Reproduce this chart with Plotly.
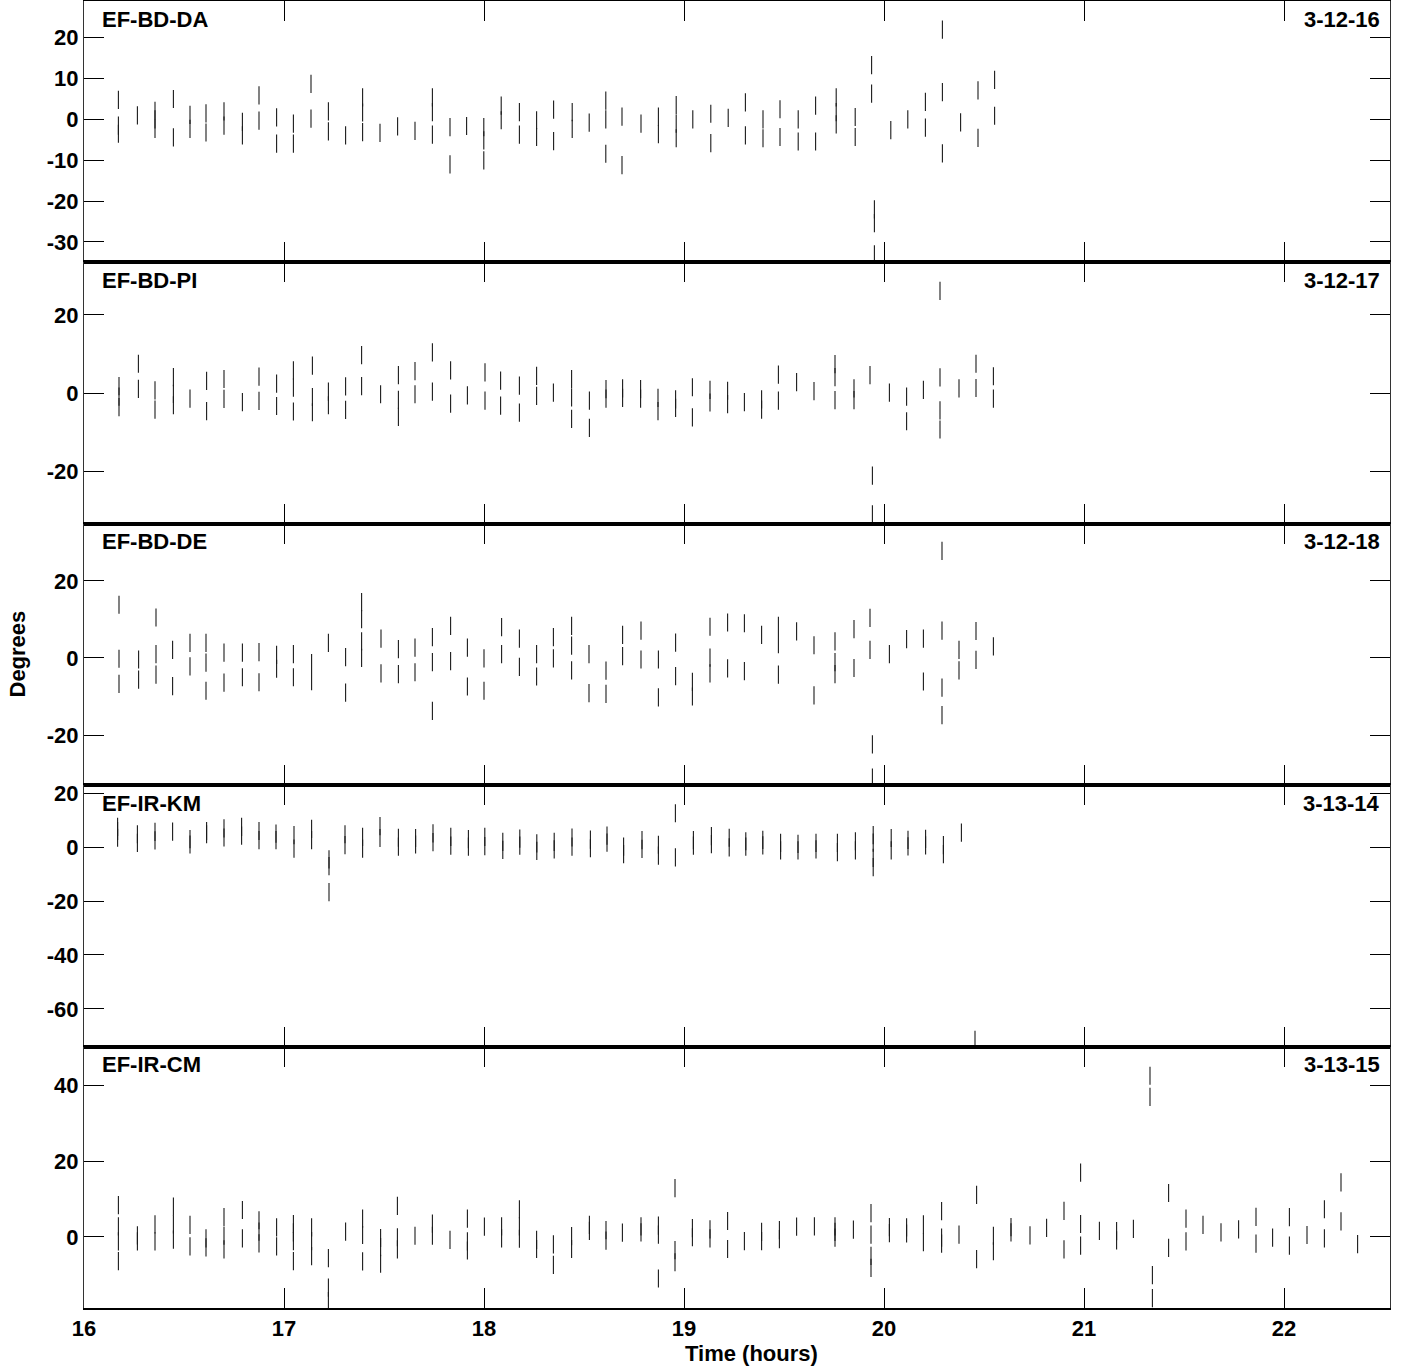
import plotly.graph_objects as go
from plotly.subplots import make_subplots

# ---------------- data (scan time in hours, phase values in degrees) ----------------
da_t = [16.172, 16.267, 16.355, 16.447, 16.53, 16.61, 16.70, 16.792, 16.875, 16.963,
        17.047, 17.135, 17.222, 17.308, 17.393, 17.48, 17.568, 17.655, 17.742, 17.83,
        17.913, 17.999, 18.086, 18.177, 18.263, 18.348, 18.441, 18.526, 18.609, 18.69,
        18.785, 18.872, 18.961, 19.044, 19.134, 19.221, 19.307, 19.395, 19.48, 19.571,
        19.658, 19.761, 19.856, 19.938, 19.952, 20.034, 20.119, 20.207, 20.292, 20.383,
        20.47, 20.553]
da_v = [[-1.5, -3.5, 4.8], [1.0], [2.1, 0.0, -2.3], [5.0, -4.4], [1.1, -2.3], [1.5, -3.2],
        [2.0, -1.5], [-0.6, -3.9], [5.9, -0.3], [0.5, -5.9],
        [-1.0, -5.9], [8.7, 0.2], [2.0, -2.9], [-3.9], [5.4, 1.7, -3.1], [-3.3], [-1.7], [-2.8],
        [5.4, 1.8, -3.7], [-1.9, -11.0],
        [-1.6], [-1.9, -5.1, -10.0], [3.4, -0.2], [1.8, -3.7], [-0.2, -4.3], [2.4, -5.3],
        [1.8, -2.3], [-0.8], [4.6, 0.0, -8.4], [0.7, -11.2],
        [-1.0], [0.7, -3.6], [3.5, -1.0, -4.6], [0.0], [1.4, -5.8], [0.4], [4.2, -3.9],
        [0.0, -4.6], [2.5, -4.3], [0.0, -5.4],
        [3.4, -5.4], [5.4, 1.8, -1.2], [0.6, -4.3], [13.3, 6.3], [-22.0, -25.4, -33.0], [-2.6],
        [0.0], [4.3, -2.0], [22.0, 6.7, -8.3], [-0.7],
        [7.1, -4.5], [9.7, 0.9]]

pi_t = [16.175, 16.272, 16.355, 16.447, 16.53, 16.613, 16.70, 16.792, 16.875, 16.963,
        17.047, 17.142, 17.222, 17.308, 17.388, 17.483, 17.572, 17.655, 17.742, 17.833,
        17.917, 18.005, 18.083, 18.177, 18.263, 18.347, 18.438, 18.527, 18.61, 18.693,
        18.783, 18.87, 18.958, 19.042, 19.13, 19.218, 19.302, 19.388, 19.472, 19.563,
        19.65, 19.755, 19.85, 19.93, 19.942, 20.027, 20.113, 20.197, 20.28, 20.375,
        20.46, 20.547]
pi_v = [[1.8, -0.9, -3.6], [7.5, 1.1], [0.7, -4.2], [4.1, -0.2, -3.1], [-1.4], [3.1, -4.6],
        [3.6, -1.5], [-2.3], [4.2, -2.0], [2.4, -3.3],
        [5.8, 1.4, -4.7], [7.0, -1.0, -4.9], [0.4, -3.1], [1.7, -4.3], [9.7, 1.8], [-0.3],
        [4.6, -1.7, -6.1], [5.6, -0.3], [10.4, 0.4], [5.8, -2.7],
        [-0.6], [5.3, -1.9], [3.2, -3.2], [1.9, -5.0], [4.4, -0.7], [0.1], [3.6, -1.1, -6.6],
        [-1.9, -8.9], [1.0, -1.4], [1.2, -1.2],
        [1.0, -1.4], [-1.2, -4.6], [-1.6, -3.8], [1.5, -6.2], [0.8, -2.4], [0.6, -2.8], [-2.3],
        [-1.6, -4.2], [4.7, -1.9], [2.8],
        [0.5], [7.4, 4.1, -1.8], [1.2, -1.8], [4.6], [-21.1, -31.0], [0.1], [-0.9, -7.2], [0.8],
        [26.1, 4.0, -4.4, -9.3], [1.2],
        [7.5, 1.3], [4.3, -1.4]]

de_t = [16.175, 16.273, 16.36, 16.443, 16.53, 16.61, 16.70, 16.792, 16.875, 16.963,
        17.047, 17.138, 17.222, 17.308, 17.388, 17.485, 17.572, 17.655, 17.742, 17.833,
        17.917, 18.0, 18.088, 18.177, 18.263, 18.347, 18.438, 18.525, 18.61, 18.693,
        18.785, 18.872, 18.958, 19.042, 19.13, 19.218, 19.302, 19.388, 19.472, 19.563,
        19.65, 19.755, 19.85, 19.93, 19.942, 20.027, 20.113, 20.197, 20.29, 20.375,
        20.46, 20.547]
de_v = [[13.8, -0.2, -6.7], [-0.4, -5.6], [10.5, 1.0, -4.3], [2.1, -7.3], [3.9, -2.2],
        [3.9, -1.2, -8.5], [1.4, -6.4], [1.4, -5.0], [1.5, -6.3], [0.8, -2.8],
        [1.0, -5.0], [-1.3, -6.0], [3.9], [0.2, -9.0], [14.5, 10.1, 4.3, 0.0], [5.0, -4.0],
        [2.3, -4.2], [2.7, -3.7], [5.4, -1.1, -13.7], [8.3, -0.8],
        [2.7, -7.4], [-0.1, -8.5], [8.0, 1.0], [5.0, -2.3], [1.0, -4.8], [5.4, -0.1],
        [8.3, 3.2, -3.2], [1.0, -9.1], [-3.3, -9.3], [6.0, 0.5],
        [7.1, -0.4], [-0.4, -10.2], [4.0, -4.7], [-6.2, -10.0], [8.1, 0.1, -4.0], [9.2, -2.7],
        [9.0, -3.4], [6.0], [8.3, 3.6, -4.3], [6.9],
        [3.3, -9.7], [4.3, -1.1, -4.2], [7.5, -2.6], [10.4, 2.1], [-22.4, -31.0], [1.0], [4.9],
        [5.0, -6.1], [27.8, 7.1, -7.7, -14.8], [2.1, -3.2],
        [7.0, -0.5], [3.0]]

km_t = [16.168, 16.267, 16.355, 16.443, 16.53, 16.613, 16.70, 16.788, 16.875, 16.96,
        17.05, 17.138, 17.225, 17.305, 17.393, 17.48, 17.572, 17.658, 17.745, 17.834,
        17.922, 18.004, 18.094, 18.179, 18.264, 18.351, 18.44, 18.532, 18.615, 18.698,
        18.79, 18.872, 18.957, 19.047, 19.137, 19.226, 19.309, 19.394, 19.483, 19.57,
        19.66, 19.767, 19.857, 19.946, 20.036, 20.12, 20.208, 20.297, 20.387, 20.455]
km_v = [[3.5, 6.0, 7.5], [4.8, 1.6], [5.7, 2.5], [5.8], [3.0, 1.0], [6.0, 4.8], [7.0, 3.6],
        [7.5, 4.3], [6.0, 2.6], [5.0, 2.6],
        [4.5, -0.5], [6.8, 2.6], [-4.5, -7.0, -16.7], [4.8, 0.8], [3.8, -0.5], [7.8, 3.4],
        [3.5, 0.2], [3.4, 1.0], [5.1, 1.9], [3.8, 0.6],
        [3.0, 0.2], [3.8, 0.4], [2.0, -1.0], [3.2, 0.6], [1.4, -1.4], [2.0, -0.8], [3.6, 0.2],
        [2.8, -0.4], [4.3, 1.7], [0.2, -2.6],
        [2.6, -0.6], [0.9, -3.1], [12.6, -3.8], [2.6, 0.6], [4.1, 1.1], [3.5, -0.1], [2.2, 0.2],
        [2.7, 0.7], [1.6, -1.2], [1.2, -1.2],
        [1.6, -0.8], [1.6, -1.8], [2.2, -1.2], [4.5, 1.7, -4.0, -7.4], [3.4, -1.2], [2.7, 0.3],
        [3.1, 0.7], [0.8, -2.6], [5.4], [-71.5]]

cm_t = [16.172, 16.267, 16.355, 16.447, 16.53, 16.61, 16.70, 16.792, 16.875, 16.963,
        17.047, 17.138, 17.222, 17.308, 17.393, 17.483, 17.567, 17.655, 17.742, 17.83,
        17.917, 18.002, 18.088, 18.177, 18.263, 18.347, 18.438, 18.527, 18.61, 18.692,
        18.785, 18.872, 18.955, 19.042, 19.13, 19.218, 19.302, 19.388, 19.477, 19.563,
        19.652, 19.755, 19.847, 19.935, 20.027, 20.113, 20.197, 20.288, 20.375, 20.463,
        20.547, 20.635, 20.73, 20.813, 20.90, 20.983, 21.077, 21.163, 21.247, 21.33,
        21.342, 21.423, 21.51, 21.595, 21.685, 21.773, 21.86, 21.943, 22.027, 22.115,
        22.202, 22.285, 22.368]
cm_v = [[8.4, 2.8, -1.2, -6.4], [0.4, -1.2], [3.3, -1.2], [8.0, 3.3, -0.7], [3.2, -2.5],
        [-0.4, -2.8], [5.2, 0.3, -3.3], [7.1, -0.4], [4.4, 1.4, -1.7], [2.5, -2.5],
        [3.4, 1.2, -1.1, -6.4], [2.5, -1.1, -5.1], [-5.6, -13.4, -17.0], [1.4], [4.8, 0.5, -6.5],
        [-0.3, -2.7, -7.1], [8.2, -0.1, -3.3], [0.3], [3.5, 0.3], [-0.8],
        [4.8, -1.2, -3.6], [2.7], [2.8, -0.4], [7.3, 2.8, -0.5], [-0.8, -3.2], [-2.0, -7.4],
        [0.2, -3.2], [3.2, 1.6], [1.8, -1.0], [1.1],
        [2.8, 1.2], [3.0, 0.6, -11.0], [12.9, -3.5, -6.7], [2.3, -0.1], [2.0, -0.4], [4.2, -3.2],
        [-1.1], [1.3, -1.1], [1.8, -0.6], [2.7],
        [2.8], [2.8, 1.3, -0.2], [1.9], [6.3, 0.6, -5.0, -8.2], [2.6, 1.0], [2.5, 0.9],
        [3.3, -1.4], [6.8, -0.2, -1.8], [0.6], [11.1, -5.9],
        [0.3, -3.8], [2.6, 1.2], [0.4], [2.4], [6.9, -3.3], [17.0, 3.4, -2.3], [1.6],
        [1.5, -0.9], [2.1], [42.6, 37.0],
        [-10.1, -16.2], [11.6, -2.9], [4.8, -1.2], [3.2], [1.2], [2.0], [5.3, -1.8], [-0.2],
        [5.2, -2.3], [0.5],
        [7.3, -0.4], [14.4, 4.1], [-1.9]]

baselines = ["EF-BD-DA", "EF-BD-PI", "EF-BD-DE", "EF-IR-KM", "EF-IR-CM"]
dates = ["3-12-16", "3-12-17", "3-12-18", "3-13-14", "3-13-15"]

y_ranges = [[-35, 29], [-33.4, 33.4], [-33, 34.8], [-74, 23], [-18.8, 50.3]]
y_ticks = [[-30, -20, -10, 0, 10, 20], [-20, 0, 20], [-20, 0, 20],
           [-60, -40, -20, 0, 20], [0, 20, 40]]
x_ticks = [16, 17, 18, 19, 20, 21, 22]

series = [(da_t, da_v), (pi_t, pi_v), (de_t, de_v), (km_t, km_v), (cm_t, cm_v)]

# ---------------- figure ----------------
FONT = "Liberation Sans, Arial, Helvetica, sans-serif"
FS = 22
fig = make_subplots(rows=5, cols=1, shared_xaxes=True, vertical_spacing=0)

for i, (ts, vs) in enumerate(series):
    xs, ys = [], []
    for t, vals in zip(ts, vs):
        for v in vals:
            xs.append(t)
            ys.append(v)
    fig.add_trace(go.Scatter(
        x=xs, y=ys, mode="markers",
        marker=dict(symbol="line-ns", size=13,
                    line=dict(width=1.1, color="#1a1a1a")),
        showlegend=False, hoverinfo="skip"), row=i + 1, col=1)

    fig.update_yaxes(
        range=y_ranges[i], tickvals=y_ticks[i],
        ticktext=[str(v) for v in y_ticks[i]],
        ticks="inside", ticklen=20, tickwidth=1, tickcolor="black",
        showline=True, linewidth=1, linecolor="#333333", mirror="allticks",
        showgrid=False, zeroline=False, automargin=False,
        tickfont=dict(family=FONT, size=FS, color="black", weight="bold"),
        row=i + 1, col=1)
    fig.update_xaxes(
        range=[16, 22.53], tickvals=x_ticks, ticktext=[str(v) for v in x_ticks],
        ticks="inside", ticklen=20, tickwidth=1, tickcolor="black",
        showline=True, linewidth=2, linecolor="black", mirror="allticks",
        showgrid=False, zeroline=False, showticklabels=(i == 4), automargin=False,
        tickfont=dict(family=FONT, size=FS, color="black", weight="bold"),
        row=i + 1, col=1)

    yd = "y domain" if i == 0 else f"y{i + 1} domain"
    xd = "x domain" if i == 0 else f"x{i + 1} domain"
    fig.add_annotation(text=baselines[i], xref=xd, yref=yd, x=0.012, y=1,
                       xanchor="left", yanchor="middle", yshift=-18, showarrow=False,
                       font=dict(family=FONT, size=FS, color="black", weight="bold"))
    fig.add_annotation(text=dates[i], xref=xd, yref=yd, x=0.994, y=1,
                       xanchor="right", yanchor="middle", yshift=-18, showarrow=False,
                       font=dict(family=FONT, size=FS, color="black", weight="bold"))

fig.add_annotation(text="Time (hours)", xref="paper", yref="paper", x=0.511, y=-0.0345,
                   xanchor="center", yanchor="middle", showarrow=False,
                   font=dict(family=FONT, size=FS, color="black", weight="bold"))
fig.add_annotation(text="Degrees", xref="paper", yref="paper", x=-0.0513, y=0.5,
                   xanchor="center", yanchor="middle", textangle=-90, showarrow=False,
                   font=dict(family=FONT, size=FS, color="black", weight="bold"))

fig.update_layout(
    width=1404, height=1366,
    margin=dict(l=84, r=14, t=1, b=58, autoexpand=False),
    plot_bgcolor="white", paper_bgcolor="white",
    font=dict(family=FONT, color="black"),
)

fig.write_html("out.html", config={"displayModeBar": False},
               post_script="document.body.style.margin='0';document.body.style.padding='0';")
